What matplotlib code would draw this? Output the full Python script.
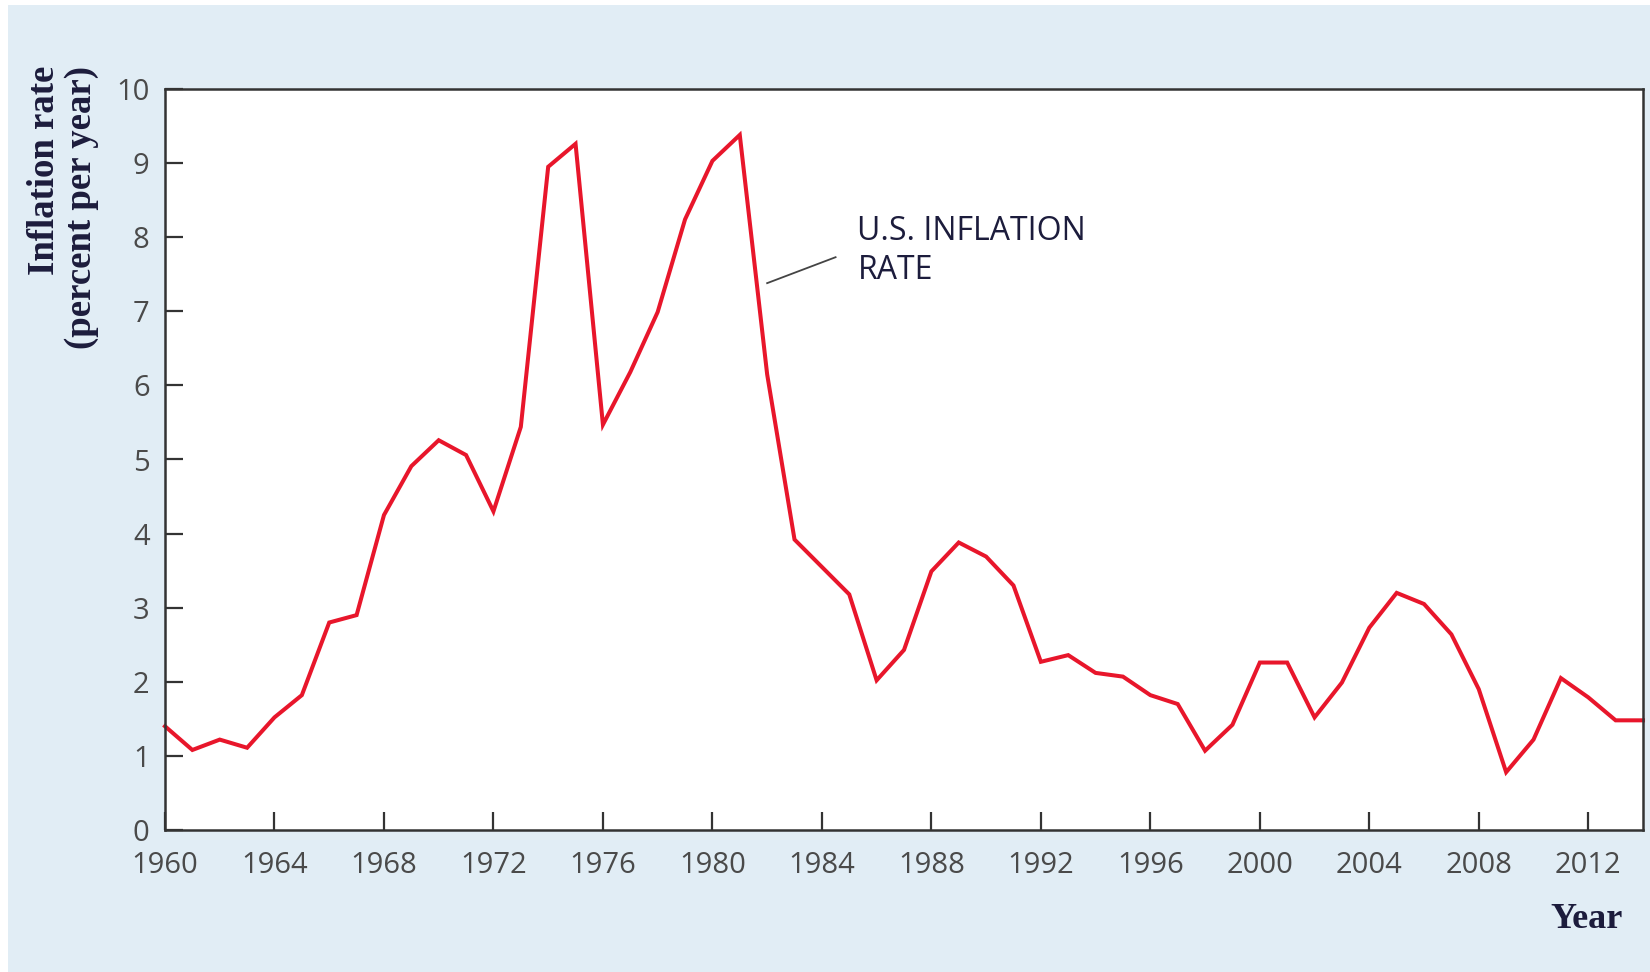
import matplotlib
matplotlib.use("Agg")
import matplotlib.pyplot as plt
from matplotlib.patches import Rectangle

# annual U.S. inflation, percent per year
years = list(range(1960, 2015))
inflation = [
    1.40, 1.08, 1.22, 1.11, 1.52, 1.82, 2.80, 2.90, 4.25, 4.91,
    5.26, 5.06, 4.30, 5.44, 8.95, 9.26, 5.47, 6.18, 6.99, 8.24,
    9.03, 9.38, 6.15, 3.92, 3.55, 3.18, 2.02, 2.43, 3.49, 3.88,
    3.69, 3.30, 2.27, 2.36, 2.12, 2.07, 1.82, 1.70, 1.07, 1.42,
    2.26, 2.26, 1.52, 1.99, 2.73, 3.20, 3.05, 2.64, 1.90, 0.78,
    1.22, 2.05, 1.79, 1.48, 1.48,
]
xticks = list(range(1960, 2013, 4))
yticks = list(range(0, 11))

W, H = 1650, 972
PANEL = "#e1edf5"
AXIS = "#333333"
TICK_TXT = "#4a4a4a"
LINE_RED = "#e8162b"
NAVY = "#1c1c3c"

fig = plt.figure(figsize=(W / 100, H / 100), dpi=100, facecolor="white")
fig.patches.append(Rectangle((8 / W, 0), 1 - 8 / W, 1 - 5 / H, transform=fig.transFigure,
                             facecolor=PANEL, edgecolor="none", zorder=-10))

ax = fig.add_axes([165 / W, 1 - 830 / H, (1643 - 165) / W, (830 - 89) / H])
ax.set_facecolor("white")
ax.plot(years, inflation, color=LINE_RED, lw=2.9, solid_joinstyle="miter", clip_on=False)

ax.set_xlim(1960, 2014)
ax.set_ylim(0, 10)
ax.set_xticks(xticks)
ax.set_yticks(yticks)
for sp in ax.spines.values():
    sp.set_color(AXIS)
    sp.set_linewidth(1.8)

ax.tick_params(direction="in", length=13, width=1.6, color=AXIS, top=False, right=False,
               labelcolor=TICK_TXT)
ax.tick_params(axis="x", pad=15)
ax.tick_params(axis="y", pad=11)
for lab in ax.get_xticklabels() + ax.get_yticklabels():
    lab.set_fontfamily("Open Sans")
    lab.set_fontsize(21)

# leader line and label for the series
ax.plot([1982.0, 1984.5], [7.38, 7.73], color="#444444", lw=1.3)
ax.text(1985.3, 8.3, "U.S. INFLATION\nRATE", family="Open Sans", fontsize=23,
        color=NAVY, ha="left", va="top", linespacing=1.25)

fig.text(63 / W, 1 - 66 / H, "Inflation rate\n(percent per year)", rotation=90,
         ha="center", va="top", multialignment="right", family="Liberation Serif",
         fontweight="bold", fontsize=26.5, color=NAVY, linespacing=1.1)
fig.text(1623 / W, 1 - 928 / H, "Year", ha="right", va="baseline",
         family="Liberation Serif", fontweight="bold", fontsize=26, color=NAVY)

fig.savefig("out.png", dpi=100, facecolor=fig.get_facecolor())
